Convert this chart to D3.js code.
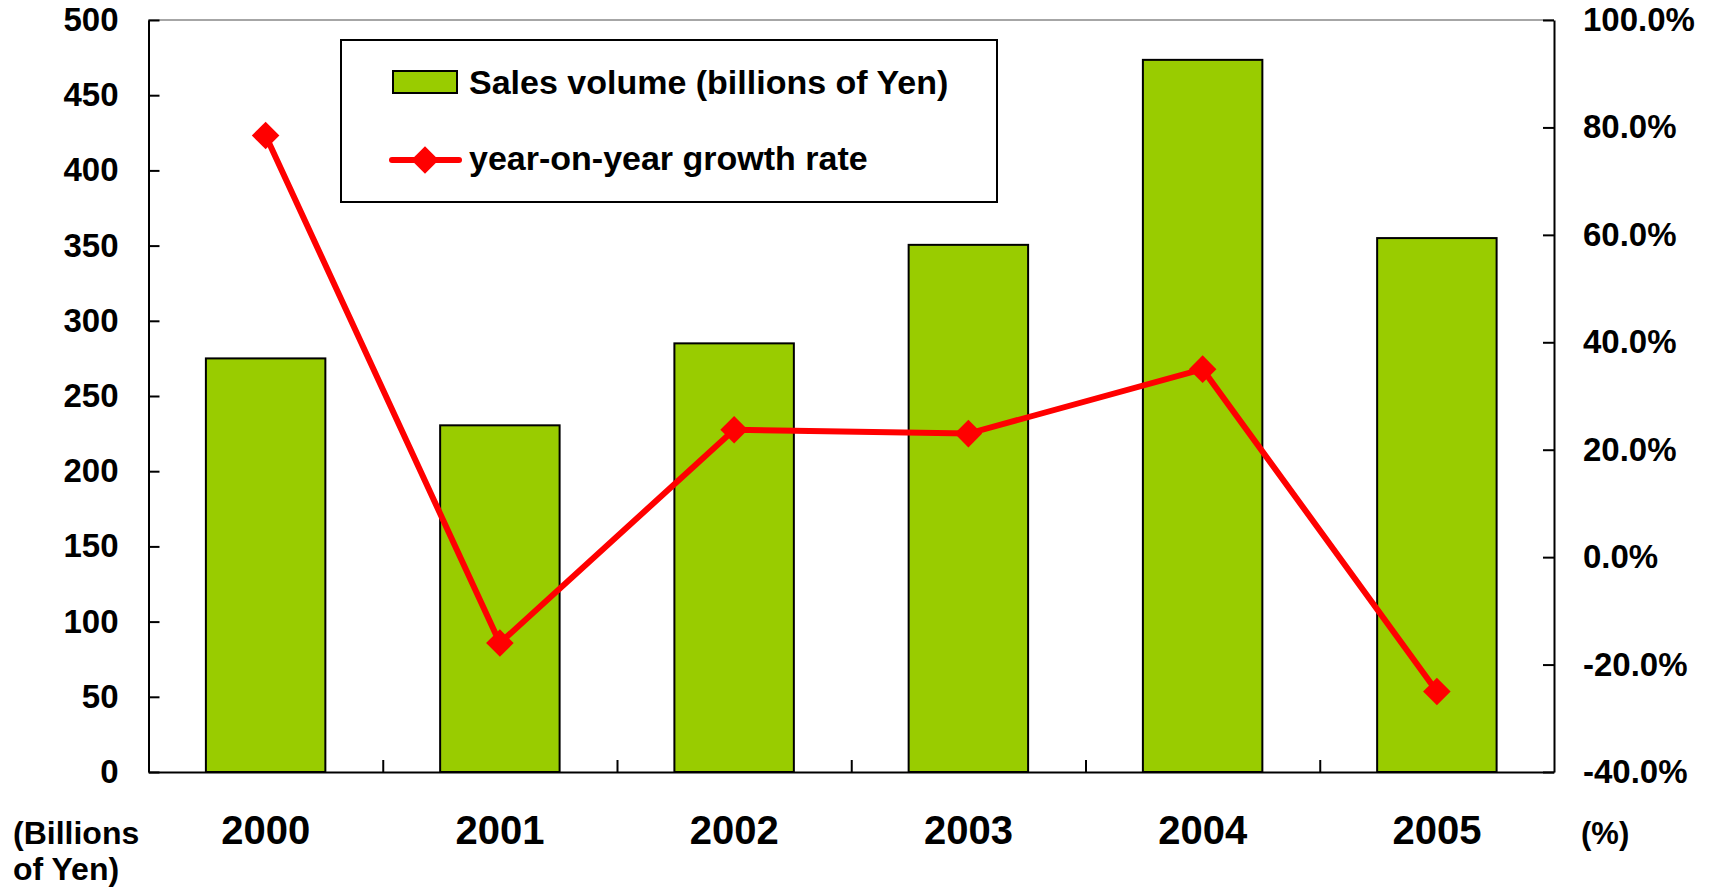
<!DOCTYPE html>
<html>
<head>
<meta charset="utf-8">
<script src="https://cdn.jsdelivr.net/npm/d3@7"></script>
<style>
  body { margin: 0; background: #fff; }
  svg text { font-family: "Liberation Sans", Arial, sans-serif; font-weight: bold; fill: #000; }
</style>
</head>
<body>
<div id="vis"></div>
<script>
// chart data
var years = ["2000", "2001", "2002", "2003", "2004", "2005"];
var sales = [275, 230.5, 285, 350.5, 473.5, 355];      // billions of Yen
var growth = [78.5, -16, 23.7, 23, 35, -25];            // %
var salesTicks = [0, 50, 100, 150, 200, 250, 300, 350, 400, 450, 500];
var growthTicks = [-40, -20, 0, 20, 40, 60, 80, 100];

var width = 1713, height = 887;
var plotLeft = 148.5, plotRight = 1554, plotTop = 20, plotBottom = 772;

var svg = d3.select("#vis")
    .append("svg")
    .attr("width", width)
    .attr("height", height);

var x = d3.scaleBand()
    .domain(years)
    .range([plotLeft, plotRight])
    .paddingInner(0.49)
    .paddingOuter(0.245);

var yLeft = d3.scaleLinear().domain([0, 500]).range([plotBottom, plotTop]);
var yRight = d3.scaleLinear().domain([-40, 100]).range([plotBottom, plotTop]);
var xEdge = d3.scaleLinear().domain([0, years.length]).range([plotLeft, plotRight]);

// top border of plot area
svg.append("line")
    .attr("x1", plotLeft).attr("x2", plotRight)
    .attr("y1", plotTop).attr("y2", plotTop)
    .attr("stroke", "#888").attr("stroke-width", 1.5);

// bars
svg.selectAll("rect.bar")
    .data(sales)
    .enter()
    .append("rect")
    .attr("class", "bar")
    .attr("x", function(d, i) { return x(years[i]); })
    .attr("y", function(d) { return yLeft(d); })
    .attr("width", x.bandwidth())
    .attr("height", function(d) { return plotBottom - yLeft(d); })
    .attr("fill", "#99cc00")
    .attr("stroke", "#000")
    .attr("stroke-width", 2);

// left axis
var gl = svg.append("g")
    .attr("transform", "translate(" + plotLeft + ",0)")
    .call(d3.axisLeft(yLeft).tickValues(salesTicks).tickSizeInner(-11).tickSizeOuter(0).tickPadding(30));
gl.selectAll("text").style("font-size", "33px");

// right axis
var gr = svg.append("g")
    .attr("transform", "translate(" + plotRight + ",0)")
    .call(d3.axisRight(yRight).tickValues(growthTicks).tickSizeInner(-11).tickSizeOuter(0).tickPadding(29)
        .tickFormat(function(d) { return d.toFixed(1) + "%"; }));
gr.selectAll("text").style("font-size", "33px");

// bottom axis: boundary ticks
var gb = svg.append("g")
    .attr("transform", "translate(0," + plotBottom + ")")
    .call(d3.axisBottom(xEdge).tickValues([1, 2, 3, 4, 5]).tickSizeInner(-12).tickSizeOuter(0).tickFormat(""));

// bottom axis: year labels
var gy = svg.append("g")
    .attr("transform", "translate(0," + plotBottom + ")")
    .call(d3.axisBottom(x).tickSize(0).tickPadding(44));
gy.select(".domain").remove();
gy.selectAll("text").style("font-size", "40px");

svg.selectAll(".domain, .tick line").attr("stroke", "#000").attr("stroke-width", 2);

// growth line
var line = d3.line()
    .x(function(d, i) { return x(years[i]) + x.bandwidth() / 2; })
    .y(function(d) { return yRight(d); });

svg.append("path")
    .datum(growth)
    .attr("d", line)
    .attr("fill", "none")
    .attr("stroke", "#ff0000")
    .attr("stroke-width", 6);

var diamond = d3.symbol().type(d3.symbolSquare).size(380);
svg.selectAll("path.marker")
    .data(growth)
    .enter()
    .append("path")
    .attr("class", "marker")
    .attr("d", diamond)
    .attr("fill", "#ff0000")
    .attr("transform", function(d, i) {
        return "translate(" + (x(years[i]) + x.bandwidth() / 2) + "," + yRight(d) + ") rotate(45)";
    });

// unit labels
svg.append("text").attr("x", 13).attr("y", 844).style("font-size", "32px").text("(Billions");
svg.append("text").attr("x", 13).attr("y", 880).style("font-size", "32px").text("of Yen)");
svg.append("text").attr("x", 1581).attr("y", 844).style("font-size", "31px").text("(%)");

// legend
var lg = svg.append("g");
lg.append("rect")
    .attr("x", 341).attr("y", 40).attr("width", 656).attr("height", 162)
    .attr("fill", "#fff").attr("stroke", "#000").attr("stroke-width", 2);
lg.append("rect")
    .attr("x", 393).attr("y", 71).attr("width", 64).attr("height", 22)
    .attr("fill", "#99cc00").attr("stroke", "#000").attr("stroke-width", 2);
lg.append("text").attr("x", 469).attr("y", 94).style("font-size", "34px")
    .text("Sales volume (billions of Yen)");
lg.append("line")
    .attr("x1", 392).attr("x2", 459).attr("y1", 160).attr("y2", 160)
    .attr("stroke", "#ff0000").attr("stroke-width", 6).attr("stroke-linecap", "round");
lg.append("path")
    .attr("d", diamond)
    .attr("fill", "#ff0000")
    .attr("transform", "translate(425,160) rotate(45)");
lg.append("text").attr("x", 469).attr("y", 170).style("font-size", "34px")
    .text("year-on-year growth rate");
</script>
</body>
</html>
